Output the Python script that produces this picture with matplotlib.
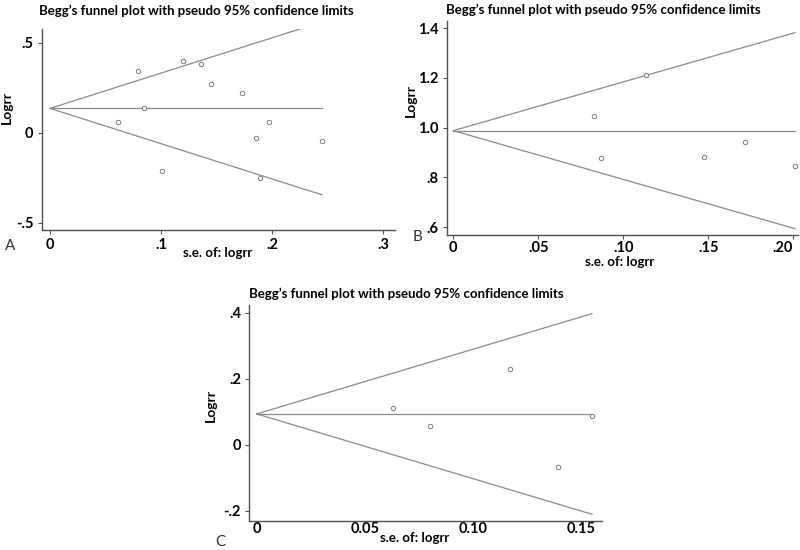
import matplotlib
matplotlib.use("Agg")
import matplotlib.pyplot as plt

plt.rcParams["font.family"] = ["Lato", "DejaVu Sans"]

TITLE = "Begg\u2019s funnel plot with pseudo 95% confidence limits"

# Panel A
se_a = [0.0616, 0.0796, 0.085, 0.1006, 0.1195, 0.136, 0.1453, 0.1727, 0.186, 0.197, 0.189, 0.2448]
logrr_a = [0.058, 0.341, 0.139, -0.211, 0.400, 0.383, 0.272, 0.222, -0.031, 0.061, -0.250, -0.048]
theta_a = 0.135
se_max_a = 0.2448

# Panel B
se_b = [0.0829, 0.0869, 0.1135, 0.1476, 0.1718, 0.2010]
logrr_b = [1.047, 0.877, 1.213, 0.881, 0.941, 0.846]
theta_b = 0.988
se_max_b = 0.201

# Panel C
se_c = [0.0632, 0.0803, 0.1173, 0.1395, 0.1552]
logrr_c = [0.113, 0.056, 0.231, -0.066, 0.087]
theta_c = 0.094
se_max_c = 0.155

xticks_a, xlabels_a = [0, 0.1, 0.2, 0.3], ["0", ".1", ".2", ".3"]
yticks_a, ylabels_a = [-0.5, 0, 0.5], ["-.5", "0", ".5"]
xticks_b, xlabels_b = [0, 0.05, 0.10, 0.15, 0.20], ["0", ".05", ".10", ".15", ".20"]
yticks_b, ylabels_b = [0.6, 0.8, 1.0, 1.2, 1.4], [".6", ".8", "1.0", "1.2", "1.4"]
xticks_c, xlabels_c = [0, 0.05, 0.10, 0.15], ["0", "0.05", "0.10", "0.15"]
yticks_c, ylabels_c = [-0.2, 0, 0.2, 0.4], ["-.2", "0", ".2", ".4"]

W, H = 800, 550
fig = plt.figure(figsize=(8, 5.5), dpi=100)

LINE = "#8a8a8a"
SPINE = "#505050"


def px_axes(x0, y0, x1, y1):
    # pixel box (left, top, right, bottom) -> figure fraction
    return fig.add_axes([x0 / W, 1 - y1 / H, (x1 - x0) / W, (y1 - y0) / H])


def funnel(ax, se, logrr, theta, se_max, xlim, ylim, xt, xl, yt, yl):
    ax.plot([0, se_max], [theta, theta + 1.96 * se_max], color=LINE, lw=0.9)
    ax.plot([0, se_max], [theta, theta - 1.96 * se_max], color=LINE, lw=0.9)
    ax.plot([0, se_max], [theta, theta], color=LINE, lw=0.9)
    ax.scatter(se, logrr, s=10, facecolors="white", edgecolors="#7a7a7a", linewidths=0.7, zorder=3)
    ax.set_xlim(*xlim)
    ax.set_ylim(*ylim)
    ax.set_xticks(xt)
    ax.set_xticklabels(xl)
    ax.set_yticks(yt)
    ax.set_yticklabels(yl)
    for s in ("top", "right"):
        ax.spines[s].set_visible(False)
    for s in ("left", "bottom"):
        ax.spines[s].set_color(SPINE)
        ax.spines[s].set_linewidth(1.0)
    ax.tick_params(length=3, width=0.8, color=SPINE, labelsize=10.5, pad=3)
    for lab in ax.get_xticklabels() + ax.get_yticklabels():
        lab.set_fontweight("bold")
    ax.set_facecolor("none")


ax_a = px_axes(41.7, 29, 395, 230)
funnel(ax_a, se_a, logrr_a, theta_a, se_max_a, (-0.0075, 0.3108), (-0.5406, 0.576),
       xticks_a, xlabels_a, yticks_a, ylabels_a)
ax_b = px_axes(446.7, 20.7, 798, 235)
funnel(ax_b, se_b, logrr_b, theta_b, se_max_b, (-0.0039, 0.2028), (0.5686, 1.430),
       xticks_b, xlabels_b, yticks_b, ylabels_b)
ax_c = px_axes(249.3, 305, 601.7, 521)
funnel(ax_c, se_c, logrr_c, theta_c, se_max_c, (-0.0034, 0.1595), (-0.2303, 0.424),
       xticks_c, xlabels_c, yticks_c, ylabels_c)
ax_c.tick_params(axis="x", length=2, pad=-1)
ax_b.tick_params(axis="x", pad=1)
ax_b.get_xticklabels()[-1].set_horizontalalignment("right")
ax_b.get_xticklabels()[-1].set_x(0.2025)

# titles, axis labels, panel letters
for (tx, ty) in [(39, 11), (446, 10), (249, 294)]:
    fig.text(tx / W, 1 - ty / H, TITLE, ha="left", va="center", fontsize=9.5, fontweight="bold")
for (lx, ly) in [(7, 108), (411, 100), (211, 405)]:
    fig.text(lx / W, 1 - ly / H, "Logrr", ha="center", va="center", rotation=90,
             fontsize=10, fontweight="bold")
for (lx, ly) in [(218, 253), (620, 262), (415, 538)]:
    fig.text(lx / W, 1 - ly / H, "s.e. of: logrr", ha="center", va="center",
             fontsize=9.5, fontweight="bold")
for (lx, ly, t) in [(10, 246, "A"), (418, 237, "B"), (220, 542, "C")]:
    fig.text(lx / W, 1 - ly / H, t, ha="center", va="center", fontsize=11, color="#333333")

fig.savefig("out.png", dpi=100)
